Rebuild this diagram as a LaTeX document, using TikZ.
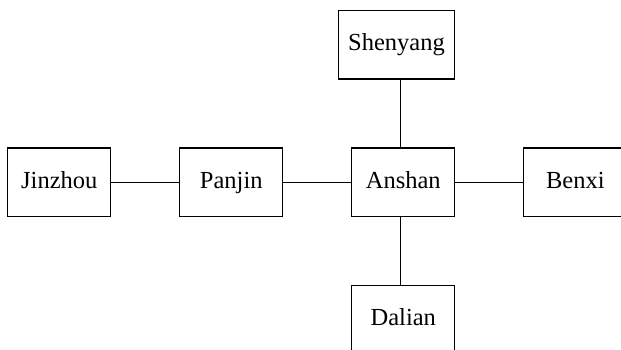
\documentclass[tikz,border=0pt]{standalone}
\usepackage{fontspec}
\setmainfont{Liberation Serif}
\usetikzlibrary{positioning}

\begin{document}
\begin{tikzpicture}[-,auto,node distance=69pt,line width=0.9pt,
                city node/.style={rectangle,draw,line width=1.3pt,outer sep=0pt,minimum width=103pt,
                minimum height=68.5pt,inner xsep=10pt,text height=17pt,text depth=5pt,
                font=\fontsize{24.5}{28}\selectfont}]

  \useasboundingbox (-403.3pt,-166.7pt) rectangle (217.7pt,182.3pt);

  \node[city node] (anshan) {Anshan};
  \node[city node] (panjin) [left=of anshan] {Panjin};
  \node[city node] (jinzhou) [left=of panjin] {Jinzhou};
  \node[city node] (benxi) [right=of anshan] {Benxi};
  \node[city node] (shenyang) [above=of anshan.north east,anchor=south east] {Shenyang};
  \node[city node] (dalian) [below=of anshan] {Dalian};

  \path
    (jinzhou) edge (panjin)
    (panjin) edge (anshan)
    (anshan) edge (benxi)
    ([xshift=-3pt]anshan.north) edge ([xshift=-3pt]anshan.north |- shenyang.south)
    ([xshift=-3pt]anshan.south) edge ([xshift=-3pt]anshan.south |- dalian.north);
\end{tikzpicture}
\end{document}
